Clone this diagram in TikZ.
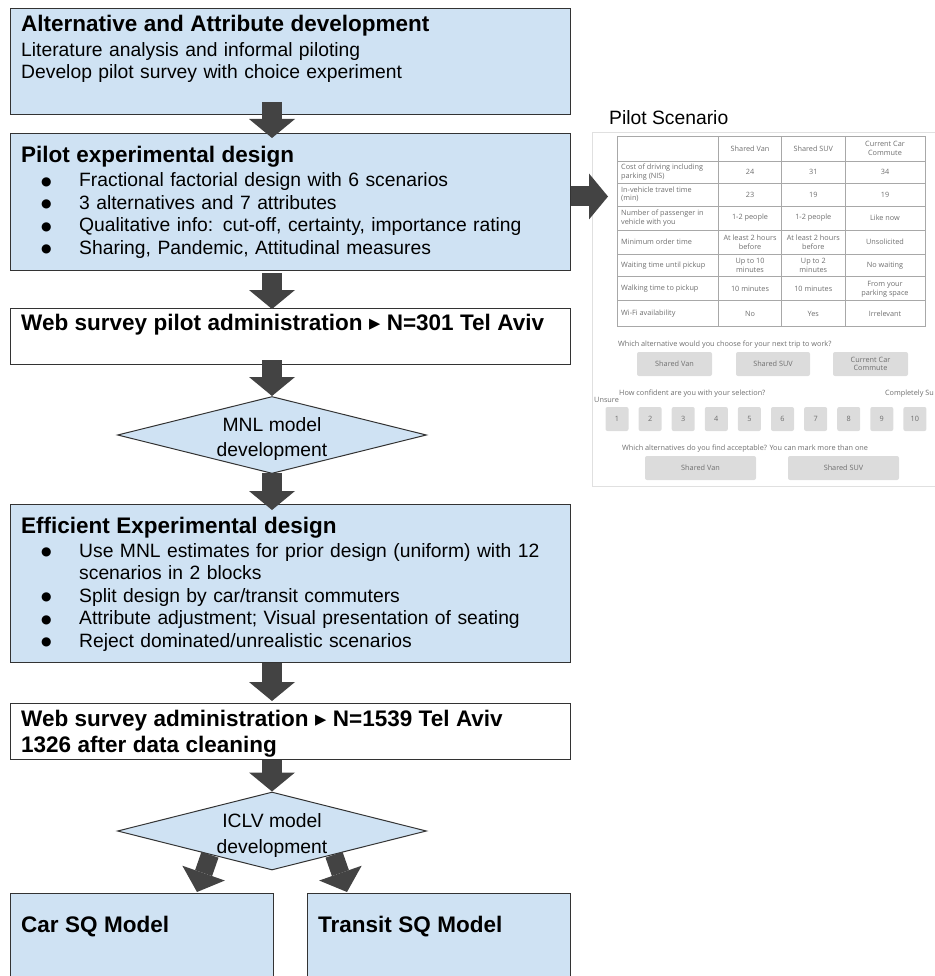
\documentclass[tikz,border=0pt]{standalone}
\usepackage{fontspec}
\setmainfont{Liberation Sans}
\newfontfamily\uifont{Open Sans}
\newfontfamily\symfont{DejaVu Sans}
\usetikzlibrary{shapes.geometric,arrows.meta,calc}

\definecolor{boxblue}{HTML}{CFE2F3}
\definecolor{boxline}{HTML}{333333}
\definecolor{arrowgray}{HTML}{434343}
\definecolor{uigray}{HTML}{6E6E6E}
\definecolor{btngray}{HTML}{DCDCDC}
\definecolor{gridgray}{HTML}{A8A8A8}

\newcommand\stepbody{\fontsize{19.3}{22.5}\selectfont}
\newcommand\stephead{\fontsize{22.5}{26}\selectfont\bfseries}
\newcommand\uismall{\uifont\fontsize{7.3}{8.6}\selectfont}
\newcommand\stepbullet{\hspace*{20pt}\makebox[38pt][l]{\raisebox{1.5pt}{\symfont\fontsize{12}{12}\selectfont ●}}}

\tikzset{
  stepbox/.style={rectangle, draw=boxline, fill=boxblue, line width=1pt, inner sep=0pt, anchor=north west},
  webbox/.style={stepbox, fill=white},
  boxtext/.style={anchor=base west, inner sep=0pt, align=left, text width=545pt, font=\stepbody},
  modeldiamond/.style={diamond, draw=boxline, fill=boxblue, line width=1pt, inner sep=0pt, aspect=4,
    minimum width=309pt, minimum height=77pt},
  modeltext/.style={inner sep=0pt, align=center, font=\stepbody},
  blockarrow/.style={draw=arrowgray, line width=20pt, -{Triangle[length=19pt 0 0, width=46pt 0 0, line width=0pt]}},
  splitarrow/.style={draw=arrowgray, line width=18pt, -{Triangle[length=20pt 0 0, width=45pt 0 0, line width=0pt]}},
  uitext/.style={inner sep=0pt, font=\uismall, text=uigray},
  uibutton/.style={uitext, fill=btngray, rounded corners=2pt, minimum height=24pt, align=center},
  gridline/.style={draw=gridgray, line width=0.8pt}
}

\begin{document}
\begin{tikzpicture}[x=1pt, y=-1pt]
  \useasboundingbox (0,0) rectangle (934,976);

  % Flow boxes
  \node[stepbox, minimum width=560pt, minimum height=106pt] (b1) at (10,8) {};
  \node[boxtext] (t1) at (21,32) {{\stephead Alternative and Attribute development}\\[2pt]
    Literature analysis and informal piloting\\
    Develop pilot survey with choice experiment};

  \node[stepbox, minimum width=560pt, minimum height=137pt] (b2) at (10,133) {};
  \node[boxtext] (t2) at (21,163) {{\stephead Pilot experimental design}\\[1.5pt]
    \stepbullet Fractional factorial design with 6 scenarios\\
    \stepbullet 3 alternatives and 7 attributes\\
    \stepbullet Qualitative info: cut-off, certainty, importance rating\\
    \stepbullet Sharing, Pandemic, Attitudinal measures};

  \node[webbox, minimum width=560pt, minimum height=56pt] (b3) at (10,308) {};
  \node[boxtext] (t3) at (21,330) {\stephead Web survey pilot administration {\symfont ▸} N=301 Tel Aviv};

  \node[modeldiamond] (d1) at (272,435) {};
  \node[modeltext] (m1) at ([yshift=-4.5pt]d1.center) {MNL model\\[2.5pt]development};

  \node[stepbox, minimum width=560pt, minimum height=158pt] (b4) at (10,504) {};
  \node[boxtext] (t4) at (21,533) {{\stephead Efficient Experimental design}\\[1.5pt]
    \stepbullet Use MNL estimates for prior design (uniform) with 12\\
    \hspace*{58pt}scenarios in 2 blocks\\
    \stepbullet Split design by car/transit commuters\\
    \stepbullet Attribute adjustment; Visual presentation of seating\\
    \stepbullet Reject dominated/unrealistic scenarios};

  \node[webbox, minimum width=560pt, minimum height=56pt] (b5) at (10,703) {};
  \node[boxtext] (t5) at (21,726) {{\stephead Web survey administration {\symfont ▸} N=1539 Tel Aviv\\[3.5pt]
    1326 after data cleaning}};

  \node[modeldiamond, minimum height=78pt] (d2) at (272,831) {};
  \node[modeltext] (m2) at ([yshift=-4.5pt]d2.center) {ICLV model\\[2.5pt]development};

  \node[stepbox, minimum width=263pt, minimum height=86pt] (c1) at (10,893) {};
  \node[boxtext, text width=250pt] (tc1) at (21,932) {\stephead Car SQ Model};
  \node[stepbox, minimum width=263pt, minimum height=86pt] (c2) at (307,893) {};
  \node[boxtext, text width=250pt] (tc2) at (318,932) {\stephead Transit SQ Model};

  % Pilot scenario screenshot
  \node[anchor=base west, inner sep=0pt, font=\stepbody] (pst) at (609,125) {Pilot Scenario};
  \node[rectangle, draw=black!12, line width=0.8pt, anchor=north west, inner sep=0pt,
    minimum width=360pt, minimum height=354pt] (shot) at (592,132) {};

  \foreach \xx in {617.3,718.3,781.7,845,925}
    \draw[gridline] (\xx,136) -- (\xx,326.7);
  \foreach \yy in {136,161,183.3,206,230,254,276.7,300.7,326.7}
    \draw[gridline] (617.3,\yy) -- (925,\yy);

  \node[uitext] (h1) at (750,148.5) {Shared Van};
  \node[uitext] (h2) at (813.3,148.5) {Shared SUV};
  \node[uitext, align=center] (h3) at (885,148.5) {Current Car\\Commute};

  \foreach \yy/\lab/\va/\vb/\vc [count=\i] in {
      172/{Cost of driving including\\parking (NIS)}/24/31/34,
      194.5/{In-vehicle travel time\\(min)}/23/19/19,
      218/{Number of passenger in\\vehicle with you}/1-2 people/1-2 people/Like now,
      242/Minimum order time/{At least 2 hours\\before}/{At least 2 hours\\before}/Unsolicited,
      265.5/Waiting time until pickup/{Up to 10\\minutes}/{Up to 2\\minutes}/No waiting,
      289/Walking time to pickup/10 minutes/10 minutes/{From your\\parking space},
      314/Wi-Fi availability/No/Yes/Irrelevant}{
    \node[uitext, anchor=west, align=left] (row\i) at (621,\yy) {\lab};
    \node[uitext, align=center] (va\i) at (750,\yy) {\va};
    \node[uitext, align=center] (vb\i) at (813.3,\yy) {\vb};
    \node[uitext, align=center] (vc\i) at (885,\yy) {\vc};
  }

  \node[uitext, anchor=base west] (q1) at (618,346) {Which alternative would you choose for your next trip to work?};
  \node[uibutton, minimum width=75pt] (q1a) at (674.5,364) {Shared Van};
  \node[uibutton, minimum width=74pt] (q1b) at (773,364) {Shared SUV};
  \node[uibutton, minimum width=75pt] (q1c) at (870.5,364) {Current Car\\Commute};

  \node[uitext, anchor=base west] (q2) at (619,395) {How confident are you with your selection?};
  \node[uitext, anchor=base west] (lo) at (594,402) {Unsure};
  \node[uitext, anchor=base east] (hi) at (934,395) {Completely Su};
  \foreach \n in {1,...,10}
    \node[uibutton, minimum width=23pt] (s\n) at ({617+33.1*(\n-1)},419) {\n};

  \node[uitext, anchor=base west] (q3) at (622,450) {Which alternatives do you find acceptable? You can mark more than one};
  \node[uibutton, minimum width=111pt] (q3a) at (700.5,468) {Shared Van};
  \node[uibutton, minimum width=111pt] (q3b) at (843.5,468) {Shared SUV};

  % Arrows
  \draw[blockarrow] ([yshift=13pt]b1.south -| d1.center) -- ([yshift=-5pt]b2.north -| d1.center);
  \draw[blockarrow] ([yshift=-2pt]b2.south -| d1.center) -- ([yshift=-1pt]b3.north -| d1.center);
  \draw[blockarrow] ([yshift=5pt]b3.south -| d1.center) -- (d1.north);
  \draw[blockarrow] ([yshift=1pt]d1.south) -- ([yshift=-6pt]b4.north -| d1.center);
  \draw[blockarrow] (b4.south -| d1.center) -- ([yshift=2pt]b5.north -| d1.center);
  \draw[blockarrow] (b5.south -| d1.center) -- (d2.north);
  \draw[blockarrow] ([yshift=5.5pt]b2.east) -- ([xshift=16pt,yshift=5.5pt]b2.east -| shot.west);
  \draw[splitarrow] ($(d2.south west)!0.2!(d2.south)$) -- ([xshift=-75pt,yshift=1pt]d2.south |- c1.north);
  \draw[splitarrow] ($(d2.south east)!0.2!(d2.south)$) -- ([xshift=75pt,yshift=1pt]d2.south |- c2.north);
\end{tikzpicture}
\end{document}
